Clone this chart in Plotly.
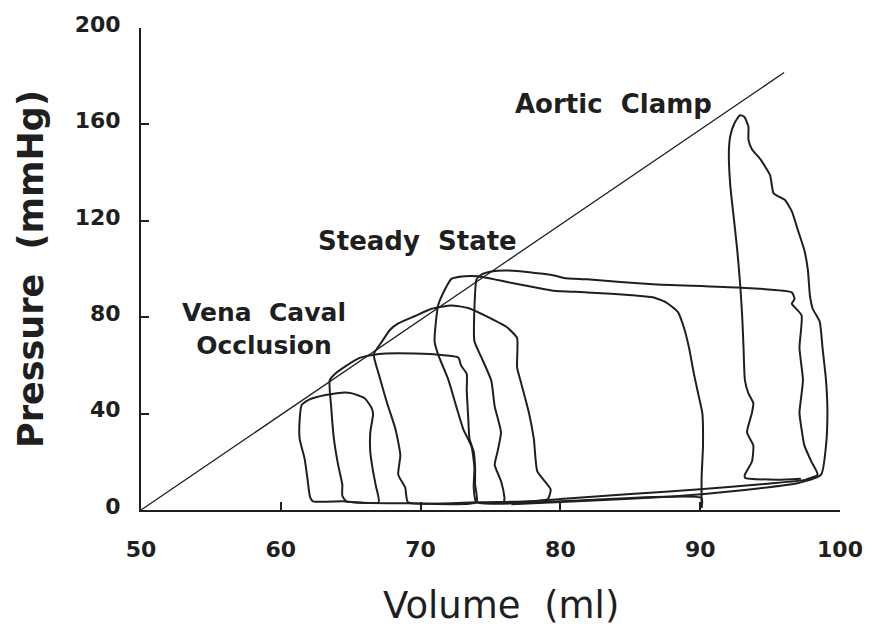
import plotly.graph_objects as go

# Left-ventricular pressure-volume loops (volume in ml, pressure in mmHg)

# vena caval occlusion, smallest beat
vco_small_vol = [67.0, 66.8, 66.6, 66.4, 66.4, 66.6, 66.5, 66.0, 65.1, 64.4, 63.2,
                 62.1, 61.5, 61.35, 61.35, 61.7, 61.9, 62.1, 62.3, 64.4, 67.0]
vco_small_p = [3.2, 10.0, 16.0, 24.1, 32.2, 39.7, 42.3, 46.4, 48.4, 48.7, 47.7,
               46.0, 43.7, 37.6, 29.5, 21.4, 13.3, 5.2, 3.6, 3.6, 3.2]

# vena caval occlusion, middle beat
vco_mid_vol = [74.0, 73.9, 73.9, 73.8, 73.5, 73.4, 73.3, 73.3, 72.9, 72.7, 71.5, 69.6, 67.5,
               66.55, 65.6, 64.7, 63.95, 63.5, 63.6, 63.8, 64.1, 64.4, 64.4, 64.7, 69.1, 74.0]
vco_mid_p = [3.2, 10.6, 17.4, 24.1, 29.5, 39.0, 49.8, 56.5, 59.9, 63.3, 64.3, 64.9, 64.9,
             64.3, 63.0, 59.9, 56.8, 53.8, 43.0, 29.5, 18.7, 10.6, 5.9, 3.6, 2.8, 3.2]

# vena caval occlusion, early beat
vco_early_vol = [79.1, 79.3, 78.35, 78.1, 77.75, 77.2, 76.9, 76.9, 76.2, 74.8, 73.4, 72.2, 70.8,
                 69.6, 68.4, 67.8, 67.25, 66.65, 67.0, 67.6, 68.2, 68.55, 68.4, 68.9, 69.1, 73.9, 79.1]
vco_early_p = [4.6, 8.6, 16.0, 29.5, 40.3, 52.5, 59.2, 71.4, 75.7, 80.1, 83.8, 84.9, 83.5,
               80.5, 77.4, 74.7, 70.0, 64.6, 56.5, 44.4, 33.6, 22.8, 14.7, 9.3, 3.2, 3.2, 4.6]

# first beat after occlusion onset
vco_first_vol = [74.0, 82.0, 90.1, 90.1, 90.1, 90.2, 90.15, 89.9, 89.55, 89.2, 88.85, 88.4,
                 87.55, 86.6, 85.4, 81.9, 79.5, 78.6, 76.2, 74.1, 73.15, 72.2, 71.75, 71.25,
                 71.0, 71.25, 72.0, 72.55, 73.05, 73.65, 73.85, 73.8, 74.0]
vco_first_p = [3.2, 4.2, 5.0, 0.8, 13.4, 26.8, 40.3, 47.1, 56.5, 67.3, 75.4, 82.2,
               86.2, 88.3, 89.0, 90.3, 91.0, 91.9, 94.6, 97.0, 97.0, 95.9, 91.6, 84.9,
               70.0, 64.6, 53.8, 43.0, 33.6, 26.2, 17.4, 9.3, 3.2]

# steady state beat
steady_vol = [76.0, 80.0, 85.0, 90.0, 95.0, 97.5, 98.4,
              97.95, 97.45, 97.25, 97.1, 97.35, 97.1, 97.25, 96.55, 96.75, 96.55,
              92.75, 86.6, 81.9, 80.25, 79.55, 78.6, 76.25, 75.05, 74.35,
              74.0, 73.85, 73.85, 74.35, 75.05, 75.3, 75.75, 75.5, 75.3, 75.75, 76.0, 76.0]
steady_p = [3.2, 4.6, 6.6, 8.6, 11.0, 12.5, 14.7,
            20.1, 26.8, 33.6, 40.3, 53.8, 67.3, 80.8, 85.6, 87.6, 90.3,
            92.3, 93.7, 95.7, 96.3, 97.3, 98.1, 99.4, 99.0, 97.7,
            95.7, 83.5, 70.0, 63.3, 53.8, 43.0, 32.2, 24.1, 18.7, 12.0, 5.2, 3.2]

# aortic clamp beat (filling from the preceding end-systolic volume)
clamp_vol = [76.5, 82.0, 88.0, 93.0, 97.0, 98.65, 99.0, 99.1, 99.0, 98.75, 98.55, 98.05,
             97.85, 97.7, 97.45, 97.0, 96.55, 96.05, 95.25, 95.0, 94.3, 93.7, 93.45, 93.45,
             93.15, 92.85, 92.45, 92.15, 92.05, 92.15, 92.4, 92.65, 92.85, 93.0, 93.1, 93.2,
             93.45, 93.8, 93.7, 93.35, 93.8, 93.7, 93.2, 93.2, 95.5, 97.2]
clamp_p = [2.4, 3.8, 5.6, 8.2, 11.2, 14.7, 26.8, 40.3, 53.8, 67.3, 78.1, 83.5,
           88.9, 99.7, 107.8, 115.9, 124.0, 128.7, 131.4, 138.9, 145.6, 149.7, 153.7, 159.1,
           163.2, 163.8, 160.5, 155.1, 148.3, 134.8, 121.3, 107.8, 94.3, 80.8, 67.3, 53.8,
           48.4, 44.4, 40.3, 32.2, 26.8, 20.1, 14.7, 13.4, 12.6, 13.0]

# end-systolic pressure-volume relation
espvr_vol = [50.0, 96.0]
espvr_p = [0.0, 181.5]

x_ticks = [50, 60, 70, 80, 90, 100]
y_ticks = [0, 40, 80, 120, 160, 200]

INK = "#1f1f1f"
FONT = "DejaVu Sans"

fig = go.Figure()

fig.add_trace(go.Scatter(x=espvr_vol, y=espvr_p, mode="lines",
                         line=dict(color=INK, width=1.3), hoverinfo="skip"))

loops = [
    (vco_small_vol, vco_small_p),
    (vco_mid_vol, vco_mid_p),
    (vco_early_vol, vco_early_p),
    (vco_first_vol, vco_first_p),
    (steady_vol, steady_p),
    (clamp_vol, clamp_p),
]
for vol, p in loops:
    fig.add_trace(go.Scatter(x=vol, y=p, mode="lines",
                             line=dict(color=INK, width=2, shape="spline", smoothing=0.5)))

label_font = dict(family=FONT, size=26, color=INK, weight="bold")
fig.add_annotation(x=83.8, y=168.5, text="Aortic\u00a0 Clamp", showarrow=False,
                   font=label_font, xanchor="center", yanchor="middle")
fig.add_annotation(x=69.8, y=111.5, text="Steady\u00a0 State", showarrow=False,
                   font=label_font, xanchor="center", yanchor="middle")
fig.add_annotation(x=58.8, y=75.0, text="Vena\u00a0 Caval<br>Occlusion", showarrow=False,
                   font=dict(family=FONT, size=25, color=INK, weight="bold"),
                   xanchor="center", yanchor="middle", align="center")

# axis titles
fig.add_annotation(xref="paper", yref="paper", x=0.515, y=0, yanchor="middle",
                   yshift=-95, text="Volume\u00a0 (ml)", showarrow=False,
                   font=dict(family=FONT, size=37, color=INK))
fig.add_annotation(xref="paper", yref="paper", x=0, y=0.5, xanchor="center",
                   xshift=-110, textangle=-90, text="Pressure\u00a0 (mmHg)", showarrow=False,
                   font=dict(family=FONT, size=35, color=INK, weight="bold"))

tick_font = dict(family=FONT, size=22, color=INK, weight="bold")
fig.update_xaxes(range=[50, 100], tickvals=x_ticks, ticks="inside", ticklen=8, tickwidth=2,
                 tickcolor=INK, showline=True, linewidth=2, linecolor=INK, showgrid=False,
                 zeroline=False, tickfont=tick_font, ticklabelstandoff=19)
fig.update_yaxes(range=[0, 200], tickvals=y_ticks, ticks="inside", ticklen=8, tickwidth=2,
                 tickcolor=INK, showline=True, linewidth=2, linecolor=INK, showgrid=False,
                 zeroline=False, tickfont=tick_font, ticklabelstandoff=14, ticklabelshift=-4)

fig.update_layout(width=875, height=634, showlegend=False,
                  margin=dict(l=141, r=27, t=19, b=124),
                  paper_bgcolor="white", plot_bgcolor="white")

fig.write_html("out.html")
